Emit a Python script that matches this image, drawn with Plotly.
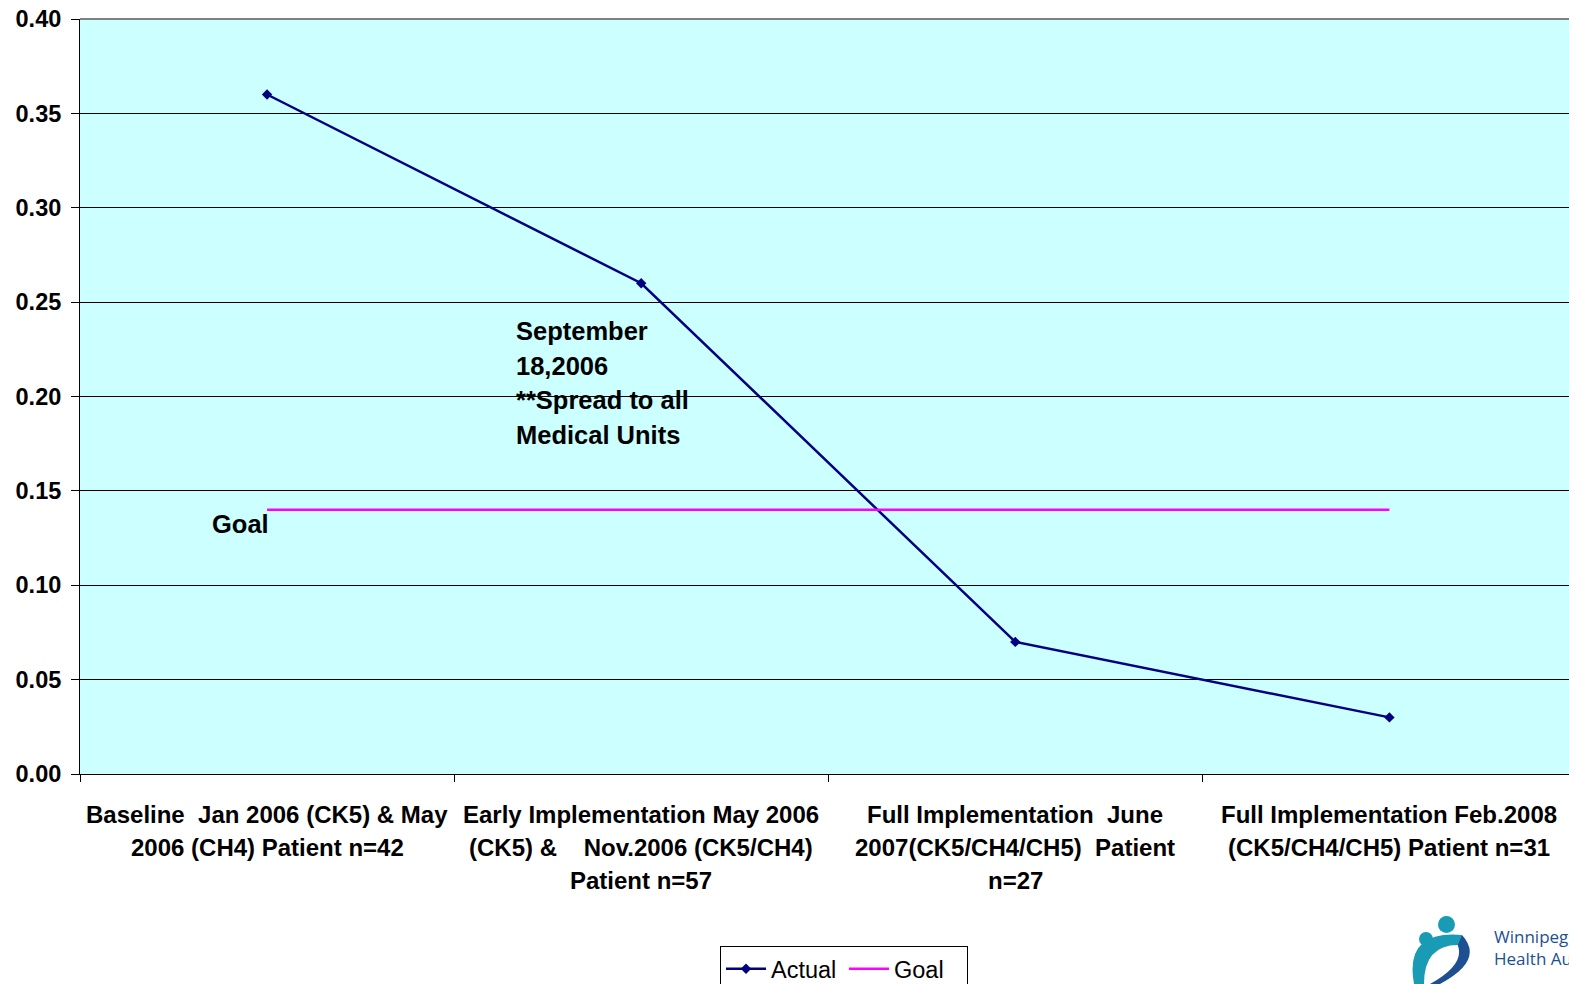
import plotly.graph_objects as go

categories = [
    ["Baseline  Jan 2006 (CK5) & May", "2006 (CH4) Patient n=42"],
    ["Early Implementation May 2006", "(CK5) &    Nov.2006 (CK5/CH4)", "Patient n=57"],
    ["Full Implementation  June", "2007(CK5/CH4/CH5)  Patient", "n=27"],
    ["Full Implementation Feb.2008", "(CK5/CH4/CH5) Patient n=31"],
]
actual = [0.36, 0.26, 0.07, 0.03]
goal = [0.14, 0.14, 0.14, 0.14]
y_ticks = [0.0, 0.05, 0.10, 0.15, 0.20, 0.25, 0.30, 0.35, 0.40]
note_lines = ["September", "18,2006", "**Spread to all", "Medical Units"]

xs = list(range(len(categories)))
FONT = "Liberation Sans, Arial, sans-serif"

fig = go.Figure()
fig.add_trace(go.Scatter(
    x=xs, y=actual, name="Actual", mode="lines+markers",
    line=dict(color="#000080", width=2.5),
    marker=dict(symbol="diamond", size=8, color="#000080"),
))
fig.add_trace(go.Scatter(
    x=xs, y=goal, name="Goal", mode="lines",
    line=dict(color="#FF00FF", width=2.5),
))

for i, lines in enumerate(categories):
    for j, line in enumerate(lines):
        fig.add_annotation(x=i, y=0, yref="y", xref="x", text=line, showarrow=False,
                           yanchor="middle", yshift=-(40 + 33 * j), align="center",
                           font=dict(family=FONT, size=24, color="black", weight="bold"))

for j, line in enumerate(note_lines):
    fig.add_annotation(x=0.660, y=0.2347 - 0.01838 * j, xref="x", yref="y",
                       xanchor="left", yanchor="middle", text=line,
                       showarrow=False, align="left",
                       font=dict(family=FONT, size=25.5, color="black", weight="bold"))
fig.add_annotation(x=0.010, y=0.1325, xref="x", yref="y", xanchor="right", yanchor="middle",
                   text="Goal", showarrow=False,
                   font=dict(family=FONT, size=25.5, color="black", weight="bold"))

# logo approximation
def px(x):
    return (x - 80) / 1489

def py(y):
    return (774 - y) / 755

fig.add_shape(type="path", xref="paper", yref="paper",
              path="M %f,%f Q %f,%f %f,%f L %f,%f Q %f,%f %f,%f Z" % (
                  px(1440), py(984), px(1485), py(960), px(1462), py(935),
                  px(1455), py(940), px(1470), py(962), px(1430), py(984)),
              fillcolor="#1d4f91", line=dict(width=0))
fig.add_shape(type="path", xref="paper", yref="paper",
              path="M %f,%f Q %f,%f %f,%f L %f,%f Q %f,%f %f,%f Z" % (
                  px(1414), py(984), px(1404), py(930), px(1462), py(935),
                  px(1458), py(945), px(1424), py(945), px(1424), py(984)),
              fillcolor="#1a9bb5", line=dict(width=0))
fig.add_shape(type="circle", xref="paper", yref="paper",
              x0=px(1438), x1=px(1455), y0=py(933), y1=py(916),
              fillcolor="#1a9bb5", line=dict(width=0))
fig.add_shape(type="circle", xref="paper", yref="paper",
              x0=px(1419), x1=px(1433), y0=py(946), y1=py(932),
              fillcolor="#1a9bb5", line=dict(width=0))
fig.add_annotation(x=px(1492), y=py(923), xref="paper", yref="paper",
                   xanchor="left", yanchor="top", showarrow=False, align="left",
                   text="Winnipeg<br>Health Authority",
                   font=dict(family="Open Sans, sans-serif", size=17, color="#1d4f91"))

fig.update_layout(
    width=1569, height=984,
    margin=dict(l=80, r=0, t=19, b=210, autoexpand=False),
    paper_bgcolor="white", plot_bgcolor="#CCFFFF",
    font=dict(family=FONT, color="black"),
    showlegend=True,
    legend=dict(orientation="h", x=px(844), xanchor="center", y=py(946), yanchor="top",
                bordercolor="black", borderwidth=1, bgcolor="white",
                font=dict(family=FONT, size=23.5, color="black"),
                itemwidth=40, tracegroupgap=0, entrywidth=68, entrywidthmode="pixels"),
    xaxis=dict(range=[-0.5, 3.48], tickvals=[-0.5, 0.5, 1.5, 2.5, 3.5],
               ticktext=["", "", "", "", ""], ticks="outside", ticklen=7, tickcolor="black",
               showgrid=False, zeroline=False, showline=True, linecolor="black", linewidth=1,
               automargin=False),
    yaxis=dict(range=[0, 0.4], tickvals=y_ticks, tickformat=".2f",
               ticks="outside", ticklen=8, tickcolor="black", ticklabelstandoff=5,
               showgrid=True, gridcolor="black", gridwidth=1, zeroline=False,
               showline=True, linecolor="black", linewidth=1, automargin=False,
               tickfont=dict(family=FONT, size=23.5, color="black", weight="bold")),
)
fig.add_shape(type="line", xref="paper", yref="paper", x0=0, x1=1, y0=1, y1=1,
              line=dict(color="#808080", width=2))

fig.write_html(
    "out.html",
    config={"displayModeBar": False},
    post_script="document.body.style.margin='0';document.body.style.overflow='hidden';"
                "document.documentElement.style.overflow='hidden';",
)
